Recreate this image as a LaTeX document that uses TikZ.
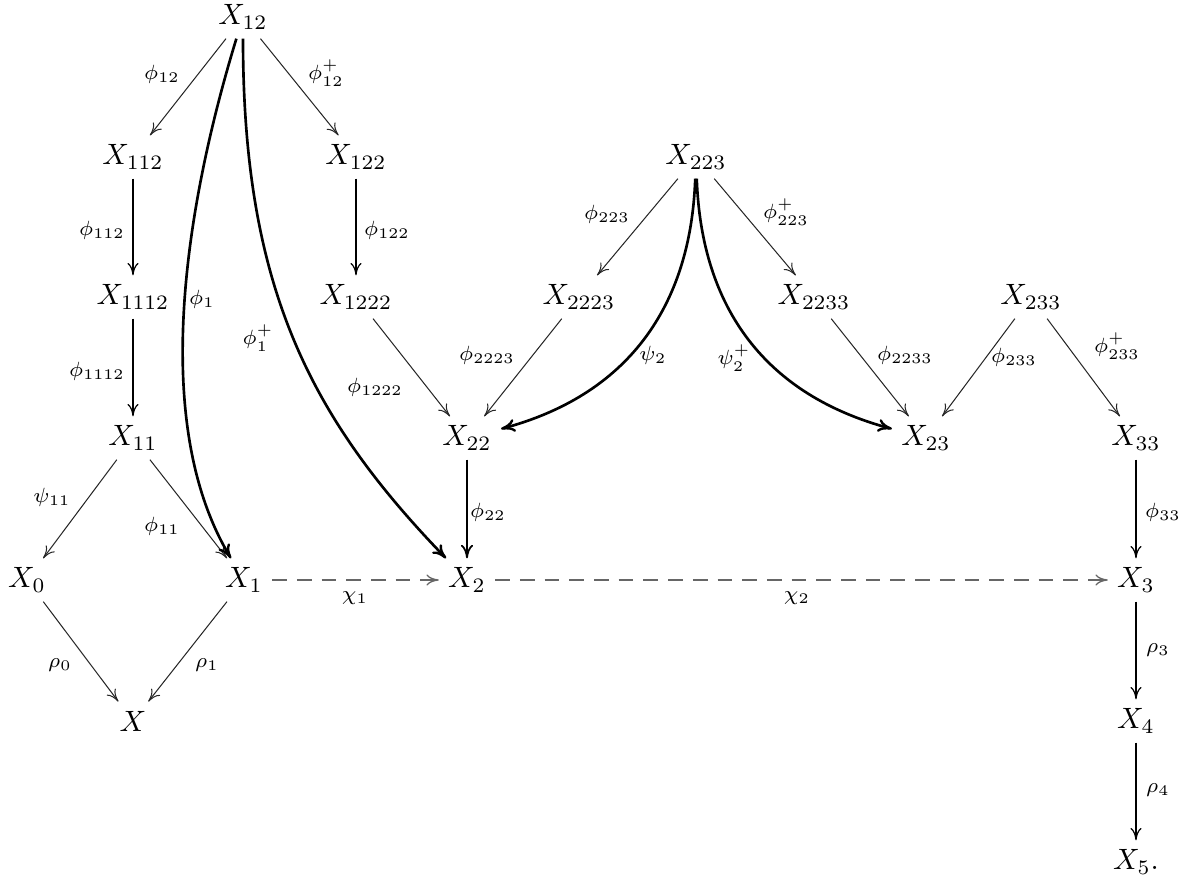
\documentclass[tikz,border=0pt]{standalone}
\usetikzlibrary{arrows.meta}
\begin{document}
\begin{tikzpicture}[x=0.34pt,y=-0.34pt,
  obj/.style={inner sep=3pt},
  lab/.style={inner sep=0pt},
  thinar/.style={line width=0.35pt, draw=black!85,
    -{Computer Modern Rightarrow[length=4.2pt,width=3.8pt,line width=0.35pt]}},
  vertar/.style={line width=0.7pt,
    -{Computer Modern Rightarrow[length=4.2pt,width=3.8pt,line width=0.4pt]}},
  boldar/.style={line width=0.9pt,
    -{Computer Modern Rightarrow[length=4.6pt,width=4.2pt,line width=0.6pt]}},
  curvar/.style={line width=0.9pt,
    -{Computer Modern Rightarrow[length=4.8pt,width=4.4pt,line width=0.8pt]}},
  dashar/.style={line width=0.45pt, draw=black!60, dash pattern=on 5pt off 3.4pt,
    -{Computer Modern Rightarrow[length=4.2pt,width=3.8pt,line width=0.45pt]}}
]
\useasboundingbox (0,0) rectangle (1197,880);

% objects
\node[obj] (X12)   at (243,17)  {$X_{12}$};
\node[obj] (X112)  at (133,157) {$X_{112}$};
\node[obj] (X122)  at (356,157) {$X_{122}$};
\node[obj] (X223)  at (696,157) {$X_{223}$};
\node[obj] (X1112) at (133,297) {$X_{1112}$};
\node[obj] (X1222) at (356,297) {$X_{1222}$};
\node[obj] (X2223) at (579,297) {$X_{2223}$};
\node[obj] (X2233) at (814,297) {$X_{2233}$};
\node[obj] (X233)  at (1031,297) {$X_{233}$};
\node[obj] (X11)   at (133,438) {$X_{11}$};
\node[obj] (X22)   at (467,438) {$X_{22}$};
\node[obj] (X23)   at (926,438) {$X_{23}$};
\node[obj] (X33)   at (1136,438) {$X_{33}$};
\node[obj] (X0)    at (27,580)  {$X_0$};
\node[obj] (X1)    at (244,580) {$X_1$};
\node[obj] (X2)    at (467,580) {$X_2$};
\node[obj] (X3)    at (1136,580) {$X_3$};
\node[obj] (X)     at (133,721) {$X$};
\node[obj] (X4)    at (1136,721) {$X_4$};
\node[obj] (X5)    at (1136,862) {$X_5.$};

% straight arrows
\draw[thinar] (X12) -- (X112);
\draw[thinar] (X12) -- (X122);
\draw[vertar] (X112) -- (X1112);
\draw[vertar] (X122) -- (X1222);
\draw[vertar] (X1112) -- (X11);
\draw[thinar] (X1222) -- (X22);
\draw[thinar] (X11) -- (X0);
\draw[thinar] (X11) -- (X1);
\draw[thinar] (X0) -- (X);
\draw[thinar] (X1) -- (X);
\draw[thinar] (X223) -- (X2223);
\draw[thinar] (X223) -- (X2233);
\draw[thinar] (X2223) -- (X22);
\draw[thinar] (X2233) -- (X23);
\draw[thinar] (X233) -- (X23);
\draw[thinar] (X233) -- (X33);
\draw[boldar] (X22) -- (X2);
\draw[vertar] (X33) -- (X3);
\draw[vertar] (X3) -- (X4);
\draw[vertar] (X4) -- (X5);
\draw[dashar] (X1) -- (X2);
\draw[dashar] (X2) -- (X3);

% curved arrows
\draw[curvar] (X12) to[out=-107,in=121,looseness=0.8] (X1);
\draw[curvar] (X12) to[out=-90,in=134,out looseness=1.14,in looseness=0.9] (X2);
\draw[curvar] (X223) to[out=-92,in=15,looseness=1.05] (X22);
\draw[curvar] (X223) to[out=-88,in=165,looseness=1.05] (X23);

% labels
\node[lab] (l12)    at (162,74)  {$\scriptstyle\phi_{12}$};
\node[lab] (l12p)   at (326,73)  {$\scriptstyle\phi^+_{12}$};
\node[lab] (l112)   at (102,230) {$\scriptstyle\phi_{112}$};
\node[lab] (l122)   at (387,230) {$\scriptstyle\phi_{122}$};
\node[lab] (l1)     at (202,299) {$\scriptstyle\phi_{1}$};
\node[lab] (l1p)    at (258,338) {$\scriptstyle\phi^+_{1}$};
\node[lab] (l1112)  at (97,371)  {$\scriptstyle\phi_{1112}$};
\node[lab] (l1222)  at (375,387) {$\scriptstyle\phi_{1222}$};
\node[lab] (lpsi11) at (52,497)  {$\scriptstyle\psi_{11}$};
\node[lab] (l11)    at (162,526) {$\scriptstyle\phi_{11}$};
\node[lab] (lr0)    at (60,665)  {$\scriptstyle\rho_{0}$};
\node[lab] (lr1)    at (207,665) {$\scriptstyle\rho_{1}$};
\node[lab] (lc1)    at (355,598) {$\scriptstyle\chi_{1}$};
\node[lab] (lc2)    at (797,598) {$\scriptstyle\chi_{2}$};
\node[lab] (l22)    at (488,512) {$\scriptstyle\phi_{22}$};
\node[lab] (l223)   at (607,214) {$\scriptstyle\phi_{223}$};
\node[lab] (l223p)  at (786,212) {$\scriptstyle\phi^+_{223}$};
\node[lab] (l2223)  at (487,355) {$\scriptstyle\phi_{2223}$};
\node[lab] (lpsi2)  at (653,355) {$\scriptstyle\psi_{2}$};
\node[lab] (lpsi2p) at (734,358) {$\scriptstyle\psi^+_{2}$};
\node[lab] (l2233)  at (905,355) {$\scriptstyle\phi_{2233}$};
\node[lab] (l233)   at (1014,357) {$\scriptstyle\phi_{233}$};
\node[lab] (l233p)  at (1117,346) {$\scriptstyle\phi^+_{233}$};
\node[lab] (l33)    at (1163,512) {$\scriptstyle\phi_{33}$};
\node[lab] (lr3)    at (1158,650) {$\scriptstyle\rho_{3}$};
\node[lab] (lr4)    at (1158,790) {$\scriptstyle\rho_{4}$};
\end{tikzpicture}
\end{document}
